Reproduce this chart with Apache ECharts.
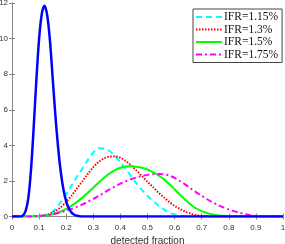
<!DOCTYPE html>
<html>
<head>
<meta charset="utf-8">
<script src="https://cdn.jsdelivr.net/npm/echarts@6/dist/echarts.min.js"></script>
<style>html,body{margin:0;padding:0;background:#fff}#c{width:285px;height:244px}</style>
</head>
<body>
<div id="c"></div>
<script>
// x grid shared by the four IFR curves
const gridX = [0, 0.06,0.08,0.10,0.12,0.14,0.16,0.18,0.20,0.22,0.24,0.26,0.28,0.30,0.32,0.34,0.36,0.38,0.40,0.42,0.44,0.46,0.48,0.50,0.52,0.54,0.56,0.58,0.60,0.62,0.64,0.66,0.68,0.70,0.72,0.74,0.76,0.78,0.80,0.82,0.84,0.86,0.88,0.90,0.92, 1];
const ifr115 = [0, 0,0,0.01,0.06,0.17,0.42,0.8,1.25,1.75,2.25,2.7,3.18,3.6,3.84,3.82,3.68,3.4,3.05,2.67,2.25,1.85,1.48,1.15,0.87,0.62,0.4,0.23,0.12,0.05,0.015,0,0,0,0,0,0,0,0,0,0,0,0,0,0, 0];
const ifr13  = [0, 0,0.01,0.03,0.07,0.16,0.3,0.52,0.82,1.18,1.58,1.98,2.4,2.77,3.07,3.27,3.37,3.38,3.3,3.12,2.87,2.58,2.27,1.95,1.65,1.35,1.08,0.82,0.6,0.42,0.27,0.16,0.08,0.03,0.01,0,0,0,0,0,0,0,0,0,0, 0];
const ifr15  = [0, 0,0.005,0.015,0.04,0.09,0.17,0.28,0.43,0.61,0.82,1.06,1.33,1.62,1.91,2.18,2.42,2.61,2.74,2.81,2.83,2.8,2.74,2.64,2.5,2.32,2.1,1.83,1.53,1.22,0.93,0.66,0.45,0.3,0.19,0.11,0.06,0.03,0.01,0,0,0,0,0,0, 0];
const ifr175 = [0, 0,0.01,0.03,0.06,0.1,0.16,0.24,0.33,0.43,0.55,0.68,0.83,0.99,1.16,1.34,1.52,1.69,1.85,1.98,2.1,2.2,2.28,2.34,2.38,2.39,2.37,2.3,2.17,1.99,1.79,1.57,1.36,1.16,0.97,0.8,0.65,0.51,0.4,0.3,0.21,0.13,0.07,0.03,0, 0];
// blue narrow curve
const blueX = [0, 0.03,0.04,0.05,0.06,0.07,0.08,0.09,0.10,0.11,0.12,0.13,0.14,0.15,0.16,0.17,0.18,0.19,0.20,0.21,0.22,0.23,0.24,0.25,0.26, 1];
const blueY = [0, 0,0.05,0.3,1.0,2.6,5.0,7.7,10.0,11.4,11.85,11.3,9.9,7.8,5.7,3.9,2.5,1.5,0.85,0.45,0.22,0.1,0.04,0.01,0, 0];
const legendNames = ['IFR=1.15%','IFR=1.3%','IFR=1.5%','IFR=1.75%'];
const xTicks = [0,1,0.1];
const yTicks = [0,12,2];

const pairs = (xs, ys) => xs.map((x, i) => [x, ys[i]]);
const axisColor = '#888';
const textColor = '#333';

const chart = echarts.init(document.getElementById('c'), null, {renderer: 'canvas'});
const lineBase = {type: 'line', showSymbol: false, symbol: 'none', smooth: 0.3, animation: false};
chart.setOption({
  animation: false,
  backgroundColor: '#fff',
  grid: {left: 12, right: 2, top: 3, bottom: 27.5, containLabel: false, outerBoundsMode: 'none'},
  legend: {
    data: legendNames.map(n => ({name: n, itemStyle: {opacity: 0}})),
    left: 193, top: 9,
    orient: 'vertical',
    backgroundColor: '#fff',
    borderColor: '#444', borderWidth: 1,
    padding: [2, 4, 2, 2],
    itemWidth: 26, itemHeight: 10, itemGap: 0.5,
    itemStyle: {opacity: 0},
    textStyle: {fontFamily: 'Liberation Serif', fontSize: 11.5, color: '#111', lineHeight: 12, padding: [0,0,0,-3]},
  },
  xAxis: [{
    type: 'value', min: xTicks[0], max: xTicks[1], interval: xTicks[2],
    name: 'detected fraction', nameLocation: 'middle', nameGap: 17,
    nameTextStyle: {fontFamily: 'Liberation Sans', fontSize: 10, color: textColor},
    axisLine: {show: true, lineStyle: {color: axisColor, width: 1}},
    axisTick: {show: true, inside: true, length: 3, lineStyle: {color: axisColor}},
    axisLabel: {fontFamily: 'Liberation Sans', fontSize: 8, color: textColor, margin: 7},
    splitLine: {show: false}
  }, {
    type: 'value', position: 'top', min: xTicks[0], max: xTicks[1], interval: xTicks[2],
    axisLine: {show: true, lineStyle: {color: axisColor, width: 1}},
    axisTick: {show: true, inside: true, length: 3, lineStyle: {color: axisColor}},
    axisLabel: {show: false}, splitLine: {show: false}
  }],
  yAxis: [{
    type: 'value', min: yTicks[0], max: yTicks[1], interval: yTicks[2],
    axisLine: {show: true, lineStyle: {color: axisColor, width: 1}},
    axisTick: {show: true, inside: true, length: 3, lineStyle: {color: axisColor}},
    axisLabel: {fontFamily: 'Liberation Sans', fontSize: 8, color: textColor, margin: 4},
    splitLine: {show: false}
  }, {
    type: 'value', position: 'right', min: yTicks[0], max: yTicks[1], interval: yTicks[2],
    axisLine: {show: true, lineStyle: {color: axisColor, width: 1}},
    axisTick: {show: true, inside: true, length: 3, lineStyle: {color: axisColor}},
    axisLabel: {show: false}, splitLine: {show: false}
  }],
  series: [
    Object.assign({}, lineBase, {name: legendNames[0], data: pairs(gridX, ifr115), itemStyle: {color: '#00ffff'}, lineStyle: {color: '#00ffff', width: 2, type: [6, 4]}}),
    Object.assign({}, lineBase, {name: legendNames[1], data: pairs(gridX, ifr13), itemStyle: {color: '#ff0000'}, lineStyle: {color: '#ff0000', width: 2, type: [1.5, 1.5]}}),
    Object.assign({}, lineBase, {name: legendNames[2], data: pairs(gridX, ifr15), itemStyle: {color: '#00ff00'}, lineStyle: {color: '#00ff00', width: 2, type: 'solid'}}),
    Object.assign({}, lineBase, {name: legendNames[3], data: pairs(gridX, ifr175), itemStyle: {color: '#ff00ff'}, lineStyle: {color: '#ff00ff', width: 2, type: [6, 3, 2, 3]}}),
    Object.assign({}, lineBase, {name: 'blue', data: pairs(blueX, blueY), itemStyle: {color: '#0000ff'}, lineStyle: {color: '#0000ff', width: 2.5, type: 'solid'}})
  ]
});
</script>
</body>
</html>
